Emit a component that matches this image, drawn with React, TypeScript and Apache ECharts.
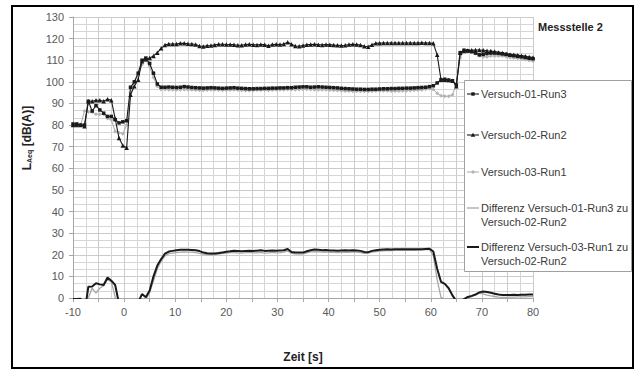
import React, { useEffect, useRef } from "react";
import * as echarts from "echarts";

// time stamps [s]
const times = [
  -10, -9.25, -8.5, -7.75, -7, -6.25, -5.5, -4.75, -4, -3.25, -2.5, -1.75, -1, -0.25, 0.5, 1.25, 2, 2.75, 3.5, 4.25,
  5, 5.75, 6.5, 7.25, 8, 8.75, 9.5, 10.25, 11, 11.75, 12.5, 13.25, 14, 14.75, 15.5, 16.25, 17, 17.75, 18.5, 19.25,
  20, 20.75, 21.5, 22.25, 23, 23.75, 24.5, 25.25, 26, 26.75, 27.5, 28.25, 29, 29.75, 30.5, 31.25, 32, 32.75, 33.5, 34.25,
  35, 35.75, 36.5, 37.25, 38, 38.75, 39.5, 40.25, 41, 41.75, 42.5, 43.25, 44, 44.75, 45.5, 46.25, 47, 47.75, 48.5, 49.25,
  50, 50.75, 51.5, 52.25, 53, 53.75, 54.5, 55.25, 56, 56.75, 57.5, 58.25, 59, 59.75, 60.5, 61.25, 62, 62.75, 63.5, 64.25,
  65, 65.75, 66.5, 67.25, 68, 68.75, 69.5, 70.25, 71, 71.75, 72.5, 73.25, 74, 74.75, 75.5, 76.25, 77, 77.75, 78.5, 79.25,
  80,
];

const names = [
  "Versuch-01-Run3",
  "Versuch-02-Run2",
  "Versuch-03-Run1",
  "Differenz Versuch-01-Run3 zu Versuch-02-Run2",
  "Differenz Versuch-03-Run1 zu Versuch-02-Run2",
];

const versuch01 = [
  80.5, 80.5, 80, 80, 91, 86.5, 89, 87, 85.5, 84, 84, 82.5, 81, 81.5, 82, 97.5, 100, 104, 110, 111, 108.5, 104, 99, 97.5, 97.5,
  97.6, 97.5, 97.4, 97.5, 97.8, 97.6, 97.4, 97.3, 97.2, 97.1,
  97.2, 97.3, 97.2, 97.1, 97.0, 97.1, 97.2, 97.3, 97.1, 97.0,
  96.9, 96.8, 96.8, 96.9, 96.9, 97.0, 97.0, 97.1, 97.1, 97.2,
  97.2, 97.3, 97.3, 97.5, 97.6, 97.7, 97.7, 97.5, 97.6, 97.7,
  97.6, 97.5, 97.4, 97.3, 97.2, 97.0, 96.9, 96.8, 96.7, 96.6,
  96.6, 96.5, 96.5, 96.6, 96.6, 96.7, 96.8, 96.8, 96.9, 96.9,
  97.0, 97.0, 97.1, 97.1, 97.2, 97.3, 97.4, 97.5, 97.8, 98.2,
  99.5, 101, 101.2, 100.8, 100.5, 98.5, 113.5, 114.6, 114.4, 114.0,
  113.3, 112.5, 112.7, 113.1, 113.3, 113.3, 113.2, 113.0, 112.7, 112.3,
  112.1, 111.8, 111.6, 111.3, 110.9, 110.7,
];

const versuch02 = [
  80, 80, 80, 79.5, 91, 91, 91.5, 91.5, 91, 92, 91.5, 83, 74, 70.5, 69.5, 94, 98, 101, 109.5, 110.5, 111, 112, 113.5, 115.5, 117,
  117.5, 117.5, 117.5, 117.8, 117.8, 117.6, 117.5, 117.3, 116.6, 116.4,
  116.7, 116.8, 117.1, 117.4, 117.4, 117.3, 117.3, 117.2, 116.9, 116.9,
  117.3, 117.4, 117.2, 117.1, 117.3, 117.2, 116.7, 117.3, 117.4, 117.3,
  117.5, 118.3, 117.4, 116.6, 116.5, 116.8, 117.2, 117.3, 117.4, 117.2,
  117.1, 117.3, 117.2, 117.0, 116.9, 116.8, 116.9, 117.3, 117.4, 117.3,
  117.0, 116.5, 116.2, 117.2, 117.8, 117.9, 118, 118, 118, 118,
  118, 118, 118, 118, 118, 118, 118.1, 118, 118, 117.8,
  112.5, 101, 101, 100.8, 100.5, 98, 113.5, 114.3, 114.5, 114.6,
  114.7, 114.7, 114.6, 114.4, 114.3, 114, 113.6, 113.3, 113, 112.7,
  112.5, 112.3, 112.1, 111.8, 111.5, 111.3,
];

const versuch03 = [
  80, 80.5, 80, 86.5, 86, 86, 85, 85, 85, 83, 82.5, 77, 76.5, 76, 80, 95, 100, 103, 108, 110, 107, 102, 98, 96.5, 96.5,
  96.4, 96.3, 96.3, 96.4, 96.5, 96.4, 96.3, 96.2, 96.1, 96.1,
  96.2, 96.3, 96.3, 96.2, 96.1, 96.1, 96.2, 96.3, 96.2, 96.1,
  96.0, 96.0, 96.1, 96.2, 96.2, 96.2, 96.1, 96.2, 96.3, 96.3,
  96.4, 96.5, 96.5, 96.4, 96.5, 96.6, 96.6, 96.5, 96.4, 96.4,
  96.3, 96.3, 96.2, 96.1, 96.0, 95.9, 95.8, 95.8, 95.7, 95.7,
  95.7, 95.6, 95.6, 95.7, 95.8, 95.9, 95.9, 95.9, 95.8, 95.8,
  95.8, 95.9, 95.9, 96.0, 96.1, 96.2, 96.3, 96.6, 96.9, 96.5,
  94.7, 93.6, 93.3, 93.3, 94.0, 99.0, 111.0, 114.8, 114.0, 113.6,
  113.1, 112.1, 111.6, 111.6, 111.9, 112.0, 112.0, 111.9, 111.6, 111.3,
  111.0, 110.9, 110.6, 110.3, 109.9, 109.7,
];

const diff01zu02 = [
  -0.5, -0.5, -0.3, -0.5, 0, 4.6, 2.3, 4.5, 5.7, 8.5, 7.5, 0.5, -7, -11, -12.5, -3.5, -2, -3, -0.5, -0.5, 2.5, 8, 13.5, 17, 19.5,
  20.5, 20.8, 21.0, 21.2, 21.3, 21.2, 21.2, 21.0, 20.6, 20.3,
  20.1, 20.0, 20.1, 20.3, 20.6, 20.8, 21.0, 21.0, 20.9, 20.8,
  21.0, 21.1, 20.9, 20.9, 21.1, 20.8, 20.9, 21.1, 20.9, 21.0,
  21.2, 21.8, 20.6, 20.4, 20.3, 20.4, 20.9, 21.3, 21.5, 21.4,
  21.2, 21.3, 21.1, 21.1, 21.0, 21.1, 21.2, 21.1, 21.3, 21.2,
  21.0, 20.7, 20.8, 21.2, 21.5, 21.7, 21.8, 21.9, 21.9, 22.0,
  22.0, 22.1, 22.0, 22.0, 22.1, 22.2, 22.3, 22.4, 22.5, 19.5,
  8.5, 0.3, -0.5, -1, -0.5, -1, -0.5, -0.5, 0.1, 0.6,
  1.4, 2.2, 1.9, 1.3, 1.0, 0.7, 0.4, 0.3, 0.3, 0.4,
  0.4, 0.5, 0.5, 0.5, 0.6, 0.6,
];

const diff03zu02 = [
  -0.5, -0.5, -0.3, -7, 5.2, 5.3, 6.8, 6.3, 6.0, 9.5, 8.0, 6.0, -2.5, -5.5, -10, -1, -2, -2, 1.8, 0.3, 3.5, 10, 15, 18, 20.5,
  21.5, 21.8, 22.1, 22.3, 22.3, 22.3, 22.2, 22.1, 21.7, 21.0,
  20.7, 20.6, 20.6, 20.8, 21.1, 21.4, 21.6, 21.9, 21.8, 21.6,
  21.8, 21.9, 21.8, 21.9, 22.1, 21.8, 21.9, 22.0, 21.9, 22.0,
  22.1, 22.7, 21.3, 21.1, 21.0, 21.0, 21.6, 22.1, 22.4, 22.3,
  22.1, 22.2, 22.0, 22.0, 21.9, 22.0, 22.1, 22.0, 22.1, 22.0,
  21.8, 21.3, 21.2, 21.8, 22.1, 22.3, 22.4, 22.5, 22.4, 22.5,
  22.5, 22.6, 22.5, 22.5, 22.6, 22.6, 22.6, 22.7, 22.8, 21.5,
  13.5, 7.5, 6.5, 4.5, 1.2, -1.5, -1.5, -0.5, 0.5, 1.0,
  1.6, 2.6, 3.0, 2.8, 2.4, 2.0, 1.6, 1.4, 1.4, 1.4,
  1.5, 1.4, 1.5, 1.5, 1.6, 1.6,
];

const legendLines = [
  ["Versuch-01-Run3"],
  ["Versuch-02-Run2"],
  ["Versuch-03-Run1"],
  ["Differenz Versuch-01-Run3 zu", "Versuch-02-Run2"],
  ["Differenz Versuch-03-Run1 zu", "Versuch-02-Run2"],
];

const FONT = "'Liberation Sans', Arial, sans-serif";

const pairs = (vals: number[]) => times.map((t, i) => [t, vals[i]]);

export default function App() {
  const ref = useRef<HTMLDivElement>(null);
  useEffect(() => {
    if (!ref.current) return;
    const chart = echarts.init(ref.current, null, { renderer: "svg" });
    const black = "#1a1a1a";
    const grayLine = "#a8a8a8";
    const grayMark = "#b4b4b4";

    const legendY = [94, 135, 172, 208, 247];
    const legendGraphics: any[] = [
      {
        type: "rect",
        shape: { x: 464.5, y: 80.5, width: 167, height: 191 },
        style: { fill: "#fff", stroke: "#a0a0a0", lineWidth: 1 },
        z: 100,
      },
    ];
    const legendStroke = [black, black, grayLine, grayLine, black];
    const legendWidth = [1.1, 1.1, 1, 1.3, 2];
    legendLines.forEach((lines, k) => {
      const y = legendY[k];
      legendGraphics.push({
        type: "line",
        shape: { x1: 467, y1: y, x2: 479, y2: y },
        style: { stroke: legendStroke[k], lineWidth: legendWidth[k] },
        z: 101,
      });
      if (k === 0) {
        legendGraphics.push({ type: "rect", shape: { x: 471.3, y: y - 1.7, width: 3.4, height: 3.4 }, style: { fill: black }, z: 102 });
      } else if (k === 1) {
        legendGraphics.push({
          type: "polygon",
          shape: { points: [[473, y - 2.3], [470.7, y + 1.8], [475.3, y + 1.8]] },
          style: { fill: black },
          z: 102,
        });
      } else if (k === 2) {
        legendGraphics.push({
          type: "polygon",
          shape: { points: [[473, y - 2], [475, y], [473, y + 2], [471, y]] },
          style: { fill: grayMark },
          z: 102,
        });
      }
      legendGraphics.push({
        type: "text",
        x: 481,
        y: y - 7,
        style: {
          text: lines.join("\n"),
          fontSize: 11,
          fontFamily: FONT,
          fill: "#3a3a3a",
          lineHeight: 14,
          verticalAlign: "top",
          align: "left",
        },
        z: 102,
      });
    });

    chart.setOption({
      animation: false,
      backgroundColor: "#ffffff",
      textStyle: { fontFamily: FONT },
      grid: { left: 73, right: 102, top: 17, bottom: 72, containLabel: false },
      xAxis: {
        type: "value",
        min: -10,
        max: 80,
        interval: 5,
        name: "Zeit [s]",
        nameLocation: "middle",
        nameGap: 53,
        nameTextStyle: { fontWeight: "bold", fontSize: 12, color: "#222", fontFamily: FONT },
        axisLine: { show: true, onZero: false, lineStyle: { color: "#a6a6a6", width: 1 } },
        axisTick: { show: true, length: 4, lineStyle: { color: "#a6a6a6" } },
        axisLabel: {
          color: "#595959",
          fontSize: 11,
          margin: 8,
          fontFamily: FONT,
          formatter: (v: number) => (v % 10 === 0 ? String(v) : ""),
        },
        splitLine: { show: true, lineStyle: { color: "#cbcbcb", width: 1 } },
        minorTick: { show: false, splitNumber: 2 },
        minorSplitLine: { show: true, lineStyle: { color: "#d6d6d6", width: 1 } },
      },
      yAxis: {
        type: "value",
        min: 0,
        max: 130,
        interval: 10,
        axisLine: { show: true, onZero: false, lineStyle: { color: "#a6a6a6", width: 1 } },
        axisTick: { show: true, length: 4, lineStyle: { color: "#a6a6a6" } },
        axisLabel: { color: "#595959", fontSize: 11, margin: 9, fontFamily: FONT },
        splitLine: { show: true, lineStyle: { color: "#cbcbcb", width: 1 } },
        minorTick: { show: false, splitNumber: 3 },
        minorSplitLine: { show: true, lineStyle: { color: "#d6d6d6", width: 1 } },
      },
      graphic: [
        {
          type: "rect",
          shape: { x: 12, y: 6, width: 621, height: 362 },
          style: { fill: "none", stroke: "#000", lineWidth: 2 },
          z: 120,
        },
        {
          type: "text",
          x: 538,
          y: 27,
          style: {
            text: "Messstelle 2",
            fontSize: 11,
            fontWeight: "bold",
            fontFamily: FONT,
            fill: "#222",
            verticalAlign: "middle",
            align: "left",
          },
          z: 100,
        },
        {
          type: "text",
          x: 27,
          y: 138,
          rotation: Math.PI / 2,
          style: {
            text: "{a|L}{b|Aeq}{a| [dB(A)]}",
            align: "center",
            verticalAlign: "middle",
            rich: {
              a: { fontSize: 12, fontWeight: "bold", fontFamily: FONT, fill: "#222" },
              b: { fontSize: 7, fontWeight: "bold", fontFamily: FONT, fill: "#222", verticalAlign: "bottom", padding: [4, 0, 0, 0] },
            },
          },
          z: 100,
        },
        ...legendGraphics,
      ],
      series: [
        {
          name: names[3],
          type: "line",
          data: pairs(diff01zu02),
          showSymbol: false,
          symbol: "none",
          lineStyle: { color: grayLine, width: 1.3 },
          itemStyle: { color: grayLine },
          clip: true,
          z: 2,
        },
        {
          name: names[4],
          type: "line",
          data: pairs(diff03zu02),
          showSymbol: false,
          symbol: "none",
          lineStyle: { color: black, width: 2 },
          itemStyle: { color: black },
          clip: true,
          z: 3,
        },
        {
          name: names[2],
          type: "line",
          data: pairs(versuch03),
          symbol: "diamond",
          symbolSize: 4,
          lineStyle: { color: grayLine, width: 1 },
          itemStyle: { color: grayMark },
          clip: true,
          z: 4,
        },
        {
          name: names[0],
          type: "line",
          data: pairs(versuch01),
          symbol: "rect",
          symbolSize: 3.5,
          lineStyle: { color: black, width: 1.1 },
          itemStyle: { color: black },
          clip: true,
          z: 5,
        },
        {
          name: names[1],
          type: "line",
          data: pairs(versuch02),
          symbol: "triangle",
          symbolSize: 4.5,
          lineStyle: { color: black, width: 1.1 },
          itemStyle: { color: black },
          clip: true,
          z: 6,
        },
      ],
    });
    return () => chart.dispose();
  }, []);
  return (
    <div
      ref={ref}
      style={{ position: "fixed", left: 0, top: 0, width: 635, height: 370, background: "#fff" }}
    />
  );
}
